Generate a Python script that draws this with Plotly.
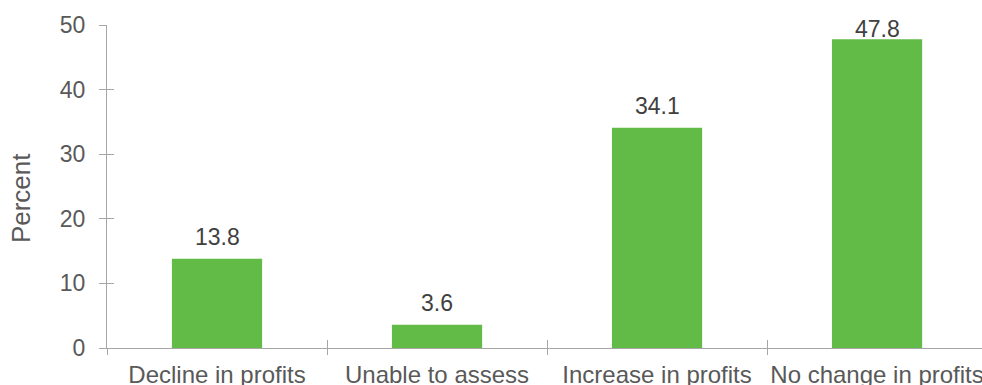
import plotly.graph_objects as go

categories = ["Decline in profits", "Unable to assess", "Increase in profits", "No change in profits"]
values = [13.8, 3.6, 34.1, 47.8]
y_ticks = [0, 10, 20, 30, 40, 50]

BAR = "#62BB46"
AXIS = "#A6A6A6"
TICK_TXT = "#595959"
LABEL_TXT = "#404040"
FONT = "Liberation Sans, Arial, sans-serif"

x_range = [-0.5, 3.477]
y_range = [0, 50]
label_cap = 46.0

fig = go.Figure()
fig.add_trace(go.Bar(x=categories, y=values, width=0.41,
                     marker=dict(color=BAR, line=dict(width=0)),
                     hoverinfo="skip", showlegend=False))
fig.add_trace(go.Bar(x=categories, y=values, width=0.41, xaxis="x2", yaxis="y2",
                     marker=dict(color="rgba(0,0,0,0)", line=dict(width=0)),
                     hoverinfo="skip", showlegend=False))

for c, v in zip(categories, values):
    fig.add_annotation(x=c, y=min(v, label_cap), text=f"{v:.1f}", showarrow=False,
                       xanchor="center", yanchor="bottom", yshift=7,
                       font=dict(family=FONT, size=23, color=LABEL_TXT))

fig.add_annotation(xref="paper", yref="paper", x=-0.0983, y=0.464, text="Percent",
                   textangle=-90, showarrow=False, xanchor="center", yanchor="middle",
                   font=dict(family=FONT, size=26, color=TICK_TXT))

fig.update_layout(
    width=982, height=385,
    margin=dict(l=107, r=0, t=25, b=37, pad=0, autoexpand=False),
    plot_bgcolor="white", paper_bgcolor="white",
    bargap=0.59,
    font=dict(family=FONT, color=TICK_TXT),
    xaxis=dict(type="category", categoryorder="array", categoryarray=categories,
               range=x_range, tickson="boundaries", ticks="outside", ticklen=6,
               tickcolor=AXIS, tickwidth=1, showline=True, linecolor=AXIS, linewidth=1,
               showgrid=False, zeroline=False, ticklabelstandoff=5, automargin=False,
               tickfont=dict(family=FONT, size=24, color=TICK_TXT)),
    xaxis2=dict(type="category", categoryorder="array", categoryarray=categories,
                overlaying="x", anchor="y2", range=x_range, tickson="boundaries",
                ticks="inside", ticklen=8, tickcolor=AXIS, tickwidth=1, automargin=False,
                showticklabels=False, showline=False, showgrid=False, zeroline=False),
    yaxis=dict(range=y_range, tickvals=y_ticks, ticks="outside", ticklen=7,
               tickcolor=AXIS, tickwidth=1, showline=True, linecolor=AXIS, linewidth=1,
               showgrid=False, zeroline=False, ticklabelstandoff=9, automargin=False,
               tickfont=dict(family=FONT, size=23, color=TICK_TXT)),
    yaxis2=dict(range=y_range, tickvals=y_ticks, overlaying="y", anchor="x2",
                ticks="inside", ticklen=7, tickcolor=AXIS, tickwidth=1, automargin=False,
                showticklabels=False, showline=False, showgrid=False, zeroline=False),
)

fig.write_html("out.html")
